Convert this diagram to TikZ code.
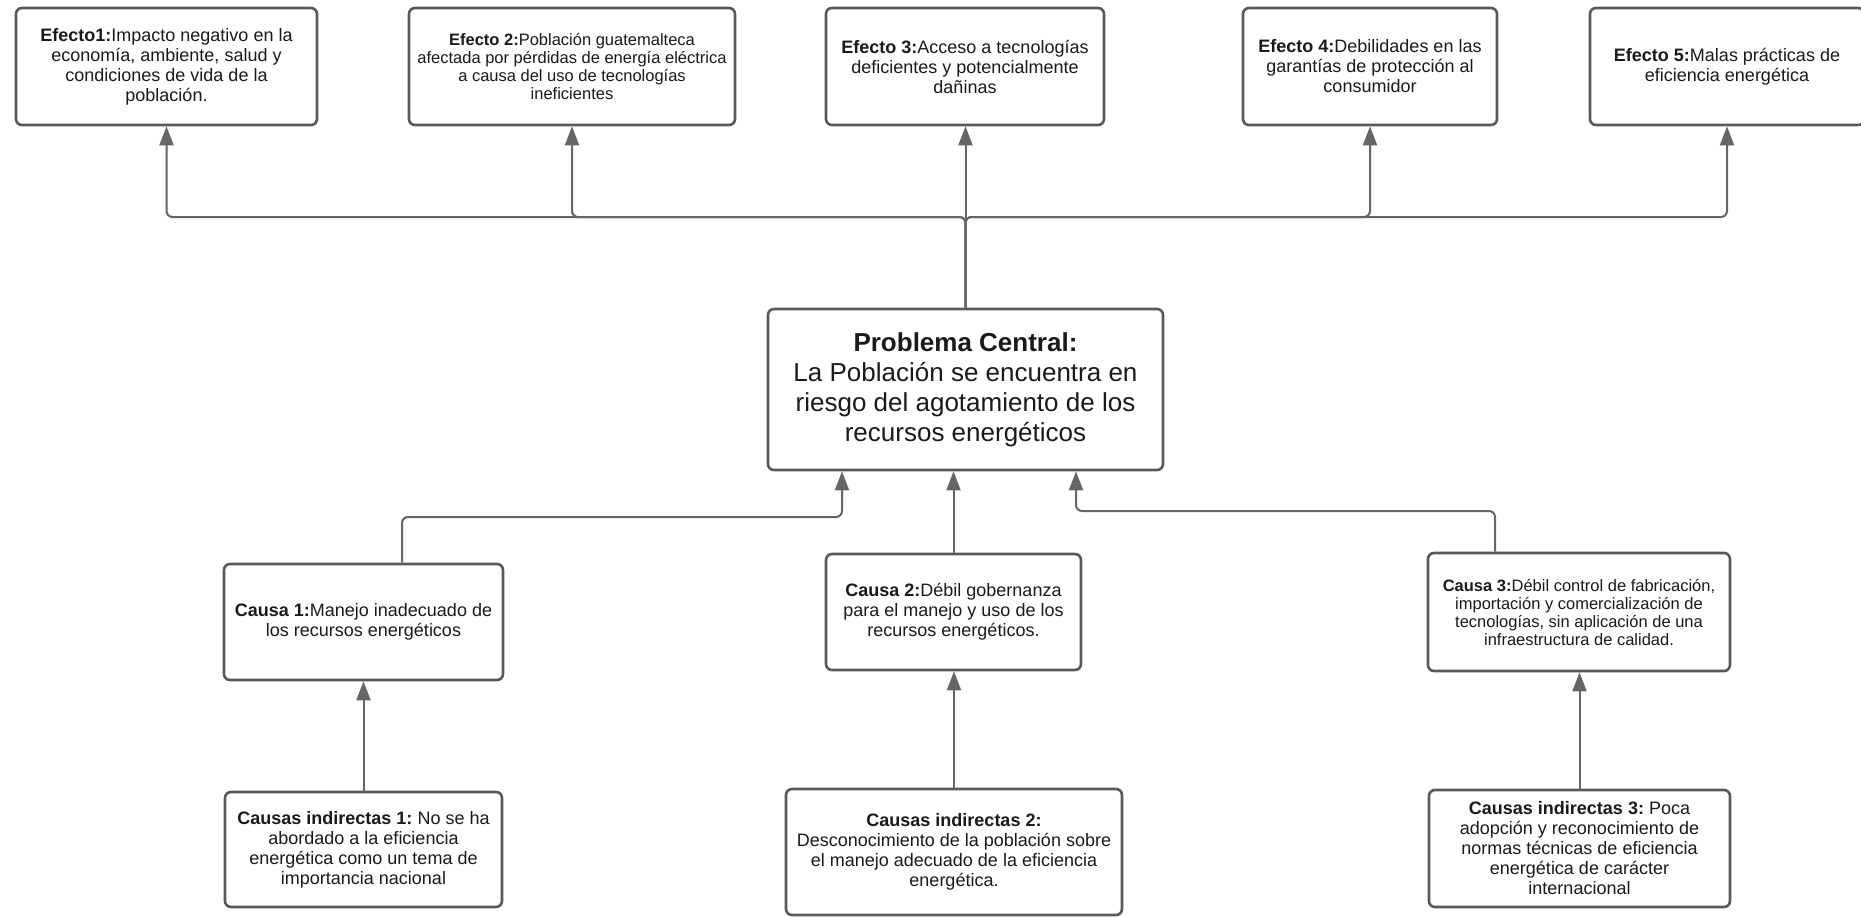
\documentclass[tikz,border=0pt]{standalone}
\usepackage{fontspec}
\setmainfont{Liberation Sans}
\usepackage{tikz}
\usetikzlibrary{calc}
\usetikzlibrary{arrows.meta}

\definecolor{boxline}{HTML}{595959}
\definecolor{linkgray}{HTML}{666666}
\definecolor{txtcol}{HTML}{1A1A1A}

\begin{document}
\frenchspacing
\begin{tikzpicture}[x=1pt, y=-1pt,
    box/.style={draw=boxline, line width=2.6pt, rounded corners=6pt, fill=white,
        inner sep=0pt, align=center, text=txtcol, font=\fontsize{18}{20}\selectfont},
    smallbox/.style={box, font=\fontsize{16.5}{18}\selectfont},
    link/.style={draw=linkgray, line width=2pt, rounded corners=6pt,
        -{Triangle[length=19pt, width=14pt]}}
]

% --- CANVAS ---
\fill[white] (0,0) rectangle (1861,916);
\useasboundingbox (0,0) rectangle (1861,916);

% --- EFFECTS (top row) ---
\node[box, minimum width=301pt, minimum height=117pt] (e1) at (166.5,66.5)
    {\textbf{Efecto1:}Impacto negativo en la\\economía, ambiente, salud y\\condiciones de vida de la\\población.};
\node[smallbox, minimum width=326pt, minimum height=117pt] (e2) at (572,66.5)
    {\textbf{Efecto 2:}Población guatemalteca\\afectada por pérdidas de energía eléctrica\\a causa del uso de tecnologías\\ineficientes};
\node[box, minimum width=278pt, minimum height=117pt] (e3) at (965,66.5)
    {\textbf{Efecto 3:}Acceso a tecnologías\\deficientes y potencialmente\\dañinas};
\node[box, minimum width=254pt, minimum height=117pt] (e4) at (1370,66.5)
    {\textbf{Efecto 4:}Debilidades en las\\garantías de protección al\\consumidor};
\node[box, minimum width=274pt, minimum height=117pt] (e5) at (1727,66.5)
    {\textbf{Efecto 5:}Malas prácticas de\\eficiencia energética};

% --- CENTRAL PROBLEM ---
\node[box, font=\fontsize{26}{30}\selectfont, minimum width=395pt, minimum height=161pt] (pc) at (965.5,389.5)
    {\textbf{Problema Central:}\\La Población se encuentra en\\riesgo del agotamiento de los\\recursos energéticos};

% --- DIRECT CAUSES ---
\node[box, minimum width=279pt, minimum height=116pt] (c1) at (363.5,622)
    {\textbf{Causa 1:}Manejo inadecuado de\\los recursos energéticos};
\node[box, minimum width=255pt, minimum height=116pt] (c2) at (953.5,612)
    {\textbf{Causa 2:}Débil gobernanza\\para el manejo y uso de los\\recursos energéticos.};
\node[smallbox, minimum width=302pt, minimum height=118pt] (c3) at (1579,612)
    {\textbf{Causa 3:}Débil control de fabricación,\\importación y comercialización de\\tecnologías, sin aplicación de una\\infraestructura de calidad.};

% --- INDIRECT CAUSES ---
\node[box, minimum width=277pt, minimum height=115pt] (i1) at (363.5,849.5)
    {\textbf{Causas indirectas 1:} No se ha\\abordado a la eficiencia\\energética como un tema de\\importancia nacional};
\node[box, minimum width=336pt, minimum height=126pt] (i2) at (954,852)
    {\textbf{Causas indirectas 2:}\\Desconocimiento de la población sobre\\el manejo adecuado de la eficiencia\\energética.};
\node[box, minimum width=301pt, minimum height=117pt] (i3) at (1579.5,848.5)
    {\textbf{Causas indirectas 3:} Poca\\adopción y reconocimiento de\\normas técnicas de eficiencia\\energética de carácter\\internacional};

% --- CENTRAL -> EFFECTS ---
\coordinate (bus) at (0,217);
\draw[link] (pc.north) -- (pc.north |- bus) -| (e1.south);
\draw[link] (pc.north) -- (pc.north |- bus) -| (e2.south);
\draw[link] (pc.north) -- (pc.north |- e3.south);
\draw[link] (pc.north) -- (pc.north |- bus) -| (e4.south);
\draw[link] (pc.north) -- (pc.north |- bus) -| (e5.south);

% --- CAUSES -> CENTRAL ---
\coordinate (c1top) at ([xshift=38.5pt]c1.north);
\coordinate (c3top) at ([xshift=-84pt]c3.north);
\coordinate (pcl) at ([xshift=-123.5pt]pc.south);
\coordinate (pcr) at ([xshift=110.5pt]pc.south);
\draw[link] (c1top) -- (c1top |- 0,517) -| (pcl);
\draw[link] (c2.north) -- (c2.north |- pc.south);
\draw[link] (c3top) -- (c3top |- 0,511) -| (pcr);

% --- INDIRECT -> DIRECT ---
\draw[link] (i1.north) -- (c1.south);
\draw[link] (i2.north) -- (i2.north |- c2.south);
\draw[link] (i3.north) -- (i3.north |- c3.south);

\end{tikzpicture}
\end{document}
